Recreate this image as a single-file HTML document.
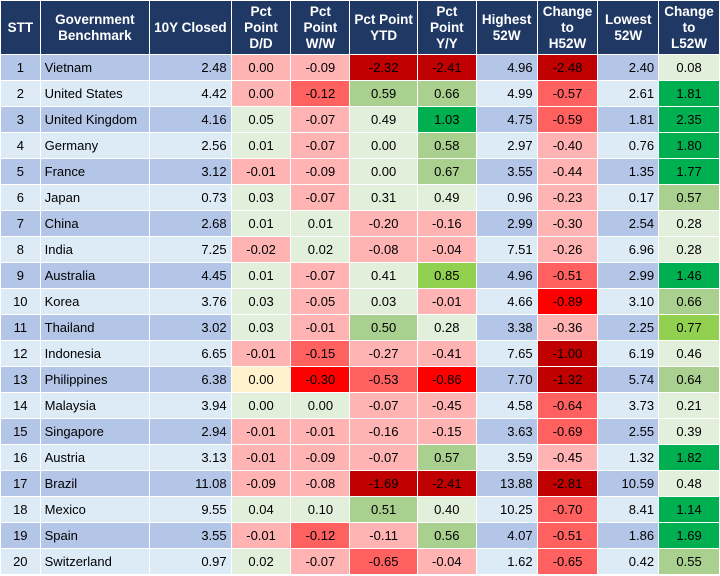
<!DOCTYPE html>
<html><head><meta charset="utf-8"><style>
html,body{margin:0;padding:0;background:#fff;width:720px;height:576px;overflow:hidden}
table{border-collapse:collapse;table-layout:fixed;font-family:"Liberation Sans",Arial,sans-serif;font-size:13px;color:#000;position:absolute;left:0;top:0}
td,th{border:1px solid #fff;padding:0 4px;height:25px;white-space:nowrap;overflow:hidden}
th{background:#203864;color:#fff;font-weight:bold;height:53px;text-align:center;line-height:16px;font-size:13.5px}
td{text-align:center}
td.l{text-align:left}
td.r{text-align:right}
.o{background:#B4C6E7}.e{background:#DDEBF7}
.p{background:#FFB3B3}.m{background:#FF6161}.R{background:#FF0000}.D{background:#C00000}
.g{background:#E2EFDA}.G{background:#A9D08E}.L{background:#92D050}.S{background:#00B050}.y{background:#FFF2CC}
</style></head><body>
<table>
<colgroup><col style="width:40px"><col style="width:110px"><col style="width:75px"><col style="width:61px"><col style="width:60px"><col style="width:67px"><col style="width:60px"><col style="width:61px"><col style="width:61px"><col style="width:61px"><col style="width:61px"></colgroup>
<thead><tr>
<th>STT</th>
<th>Government<br>Benchmark</th>
<th>10Y Closed</th>
<th>Pct<br>Point<br>D/D</th>
<th>Pct<br>Point<br>W/W</th>
<th>Pct Point<br>YTD</th>
<th>Pct<br>Point<br>Y/Y</th>
<th>Highest<br>52W</th>
<th>Change<br>to<br>H52W</th>
<th>Lowest<br>52W</th>
<th>Change<br>to<br>L52W</th>
</tr></thead>
<tbody id="tb"></tbody>
</table>
<script>
const countries=["Vietnam","United States","United Kingdom","Germany","France","Japan","China","India","Australia","Korea","Thailand","Indonesia","Philippines","Malaysia","Singapore","Austria","Brazil","Mexico","Spain","Switzerland"];
const closed=["2.48","4.42","4.16","2.56","3.12","0.73","2.68","7.25","4.45","3.76","3.02","6.65","6.38","3.94","2.94","3.13","11.08","9.55","3.55","0.97"];
const dd=["0.00","0.00","0.05","0.01","-0.01","0.03","0.01","-0.02","0.01","0.03","0.03","-0.01","0.00","0.00","-0.01","-0.01","-0.09","0.04","-0.01","0.02"];
const ww=["-0.09","-0.12","-0.07","-0.07","-0.09","-0.07","0.01","0.02","-0.07","-0.05","-0.01","-0.15","-0.30","0.00","-0.01","-0.09","-0.08","0.10","-0.12","-0.07"];
const ytd=["-2.32","0.59","0.49","0.00","0.00","0.31","-0.20","-0.08","0.41","0.03","0.50","-0.27","-0.53","-0.07","-0.16","-0.07","-1.69","0.51","-0.11","-0.65"];
const yy=["-2.41","0.66","1.03","0.58","0.67","0.49","-0.16","-0.04","0.85","-0.01","0.28","-0.41","-0.86","-0.45","-0.15","0.57","-2.41","0.40","0.56","-0.04"];
const high=["4.96","4.99","4.75","2.97","3.55","0.96","2.99","7.51","4.96","4.66","3.38","7.65","7.70","4.58","3.63","3.59","13.88","10.25","4.07","1.62"];
const chgH=["-2.48","-0.57","-0.59","-0.40","-0.44","-0.23","-0.30","-0.26","-0.51","-0.89","-0.36","-1.00","-1.32","-0.64","-0.69","-0.45","-2.81","-0.70","-0.51","-0.65"];
const low=["2.40","2.61","1.81","0.76","1.35","0.17","2.54","6.96","2.99","3.10","2.25","6.19","5.74","3.73","2.55","1.32","10.59","8.41","1.86","0.42"];
const chgL=["0.08","1.81","2.35","1.80","1.77","0.57","0.28","0.28","1.46","0.66","0.77","0.46","0.64","0.21","0.39","1.82","0.48","1.14","1.69","0.55"];
const colors=["ppDDDg","pmGGmS","gpgSmS","gpgGpS","ppgGpS","gpggpG","ggpppg","pgpppg","gpgLmS","gpgpRG","gpGgpL","pmppDg","yRmRDG","ggppmg","ppppmg","pppGpS","ppDDDg","ggGgmS","pmpGmS","gpmpmG"];
const tb=document.getElementById('tb');
for(let i=0;i<countries.length;i++){
  const tr=document.createElement('tr');
  
  
  const band=i%2===0?'o':'e';
  const c=colors[i];
  const cells=[[String(i+1),band,'','stt'],[countries[i],band,'l','country'],[closed[i],band,'r','closed'],[dd[i],c[0],'','dd'],[ww[i],c[1],'','ww'],[ytd[i],c[2],'','ytd'],[yy[i],c[3],'','yy'],[high[i],band,'r','high52'],[chgH[i],c[4],'','chg-h52'],[low[i],band,'r','low52'],[chgL[i],c[5],'','chg-l52']];
  for(const [t,bg,al,nm] of cells){
    const td=document.createElement('td');
    td.textContent=t;
    td.className=bg+(al?' '+al:'');
    
    
    tr.appendChild(td);
  }
  tb.appendChild(tr);
}
</script>
</body></html>
